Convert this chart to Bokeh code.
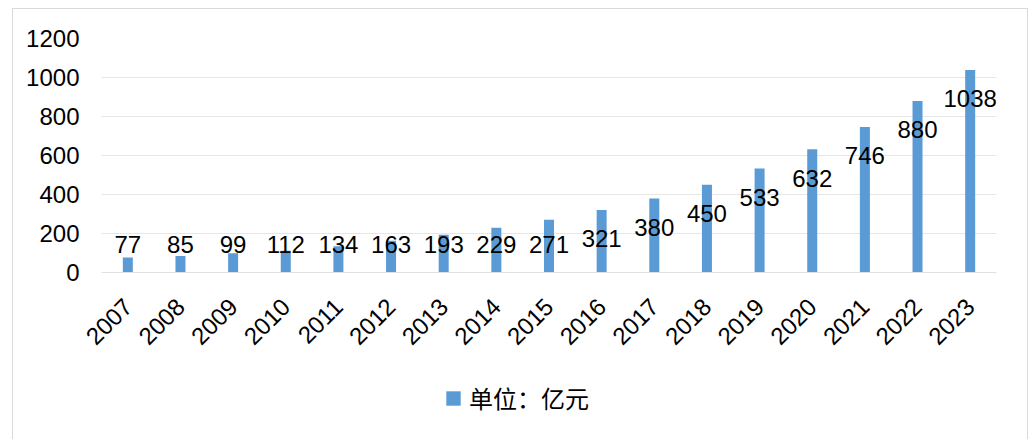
import numpy as np
from bokeh.plotting import figure
from bokeh.layouts import column
from bokeh.models import ColumnDataSource, Legend, LegendItem, FixedTicker, Range1d
from bokeh.core.properties import value
from bokeh.embed import file_html
from bokeh.resources import INLINE
from math import pi

years = ["2007", "2008", "2009", "2010", "2011", "2012", "2013", "2014", "2015",
         "2016", "2017", "2018", "2019", "2020", "2021", "2022", "2023"]
amounts = [77, 85, 99, 112, 134, 163, 193, 229, 271, 321, 380, 450, 533, 632, 746, 880, 1038]
y_ticks = [0, 200, 400, 600, 800, 1000, 1200]
series_name = "单位：亿元"
bar_color = "#5B9BD5"

vals = np.array(amounts, dtype=float)
label_y = np.maximum(vals - 148, 144)

src = ColumnDataSource(dict(year=years, amount=amounts, label_y=label_y.tolist(),
                            text=[str(a) for a in amounts]))

p = figure(x_range=years, y_range=Range1d(0, 1200), width=1014, height=360,
           output_backend="svg", toolbar_location=None,
           min_border_left=88, min_border_right=31, min_border_top=29, min_border_bottom=97)
p.outline_line_color = None
p.background_fill_color = "white"
p.border_fill_color = "white"

p.vbar(x="year", top="amount", width=0.19, source=src, fill_color=bar_color, line_color=None)

p.text(x="year", y="label_y", text="text", source=src, text_align="center",
       text_baseline="middle", text_font=value("Liberation Sans"), text_font_size="24px",
       text_color="#000000")

p.yaxis.ticker = FixedTicker(ticks=y_ticks)
p.yaxis.axis_line_color = None
p.yaxis.major_tick_line_color = None
p.yaxis.minor_tick_line_color = None
p.yaxis.major_label_text_font = "Liberation Sans"
p.yaxis.major_label_text_font_size = "24px"
p.yaxis.major_label_text_color = "#000000"
p.yaxis.major_label_standoff = 16

p.xaxis.axis_line_color = "#e0e0e0"
p.xaxis.major_tick_line_color = None
p.xaxis.minor_tick_line_color = None
p.xaxis.major_label_orientation = pi / 4
p.xaxis.major_label_text_font = "Liberation Sans"
p.xaxis.major_label_text_font_size = "24px"
p.xaxis.major_label_text_color = "#000000"
p.xaxis.major_label_standoff = 24

p.xgrid.grid_line_color = None
p.ygrid.grid_line_color = "#e6e6e6"
p.ygrid.grid_line_width = 1

# legend strip (frames of the column's figures are aligned)
p2 = figure(width=1014, height=70, output_backend="svg", toolbar_location=None,
            x_axis_type=None, y_axis_type=None, min_border=0,
            x_range=Range1d(0, 1), y_range=Range1d(0, 1))
p2.outline_line_color = None
p2.grid.grid_line_color = None
proxy = p2.vbar(x=[-10], top=[0], bottom=[0], width=0.19, fill_color=bar_color, line_color=None)
legend = Legend(items=[LegendItem(label=series_name, renderers=[proxy])],
                location=(343, 24), orientation="horizontal",
                glyph_width=18, glyph_height=18, label_standoff=7,
                padding=0, margin=0, border_line_color=None, background_fill_alpha=0,
                label_text_font="Noto Sans CJK SC", label_text_font_size="24px",
                label_text_color="#000000")
p2.add_layout(legend, "center")

layout = column(p, p2, spacing=0, margin=(8, 0, 0, 12),
                styles={"border": "1px solid #d9d9d9", "background-color": "white"})

open("out.html", "w").write(file_html(layout, INLINE))
